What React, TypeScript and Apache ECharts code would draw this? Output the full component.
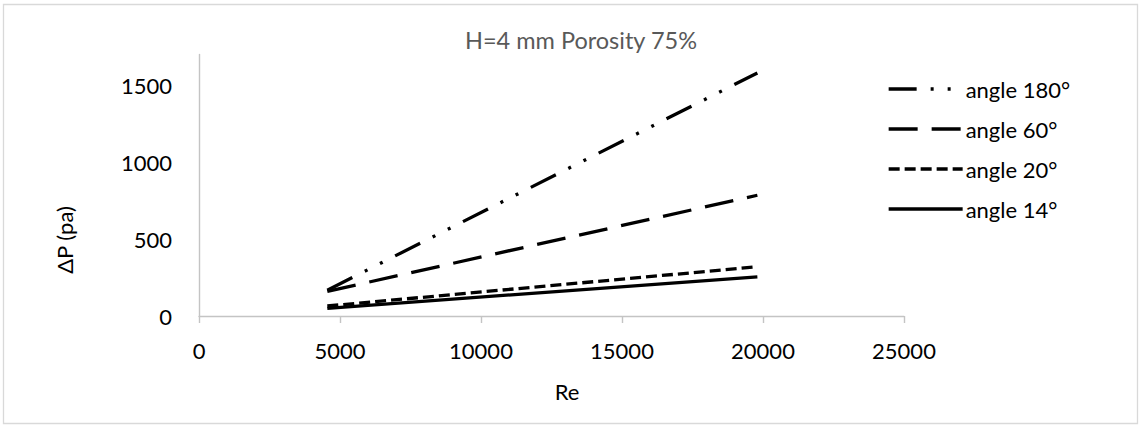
import React, { useEffect, useRef } from "react";
import * as echarts from "echarts";

const reValues = [4550, 19800];
const angle180 = [168, 1580];
const angle60 = [160, 785];
const angle20 = [65, 320];
const angle14 = [50, 255];
const seriesNames = ["angle 180°", "angle 60°", "angle 20°", "angle 14°"];
const titleText = "H=4 mm Porosity 75%";
const xName = "Re";
const yName = "ΔP (pa)";

const FONT = "Lato";

export default function App() {
  const ref = useRef<HTMLDivElement>(null);
  useEffect(() => {
    if (!ref.current) return;
    const chart = echarts.init(ref.current, null, { renderer: "svg" });
    const mk = (name: string, ys: number[], type: any) => ({
      name,
      type: "line",
      symbol: "none",
      data: reValues.map((x, i) => [x, ys[i]]),
      lineStyle: { color: "#000", width: 3.3, type, cap: "butt" },
      itemStyle: { color: "#000" },
    });
    chart.setOption({
      animation: false,
      backgroundColor: "#fff",
      textStyle: { fontFamily: FONT },
      title: {
        text: titleText,
        left: 576,
        top: 23,
        textAlign: "center",
        textStyle: { color: "#595959", fontSize: 23.5, fontWeight: "normal", fontFamily: FONT },
      },
      grid: { left: 199, right: 239, top: 54.5, bottom: 110, containLabel: false },
      xAxis: {
        type: "value",
        min: 0,
        max: 25000,
        interval: 5000,
        axisLine: { show: true, lineStyle: { color: "#c4c4c4", width: 1.4 } },
        axisTick: { show: true, length: 7, lineStyle: { color: "#c4c4c4", width: 1.4 } },
        splitLine: { show: false },
        axisLabel: {
          color: "#000",
          fontSize: 22,
          margin: 23,
          fontFamily: FONT,
          formatter: (v: number) => String(v),
        },
      },
      yAxis: {
        type: "value",
        min: 0,
        max: 1700,
        interval: 500,
        axisLine: { show: true, lineStyle: { color: "#c4c4c4", width: 1.4 } },
        axisTick: { show: false },
        splitLine: { show: false },
        axisLabel: {
          color: "#000",
          fontSize: 22,
          margin: 27,
          fontFamily: FONT,
          showMaxLabel: false,
          formatter: (v: number) => String(v),
        },
      },
      legend: {
        orient: "vertical",
        left: 887,
        top: 78,
        padding: 0,
        itemWidth: 74,
        itemHeight: 20,
        itemGap: 18,
        data: seriesNames,
        itemStyle: { color: "rgba(0,0,0,0)", borderWidth: 0, opacity: 0 },
        lineStyle: { width: 3.3 },
        textStyle: { color: "#000", fontSize: 22, fontFamily: FONT, padding: [0, 0, 0, -2] },
      },
      graphic: [
        {
          type: "rect",
          shape: { x: 3.5, y: 4.5, width: 1134, height: 419 },
          style: { fill: "none", stroke: "#d9d9d9", lineWidth: 1.3 },
          silent: true,
        },
        {
          type: "text",
          x: 64,
          y: 240,
          rotation: Math.PI / 2,
          style: {
            text: yName,
            fill: "#000",
            fontSize: 22,
            fontFamily: FONT,
            align: "center",
            verticalAlign: "middle",
          },
        },
        {
          type: "text",
          x: 567,
          y: 391,
          style: {
            text: xName,
            fill: "#000",
            fontSize: 22,
            fontFamily: FONT,
            align: "center",
            verticalAlign: "middle",
          },
        },
      ],
      series: [
        mk(seriesNames[0], angle180, [28, 14, 3, 14, 3, 14]),
        mk(seriesNames[1], angle60, [29, 14]),
        mk(seriesNames[2], angle20, [11, 5]),
        mk(seriesNames[3], angle14, "solid"),
      ],
    });
    return () => chart.dispose();
  }, []);
  return (
    <div
      ref={ref}
      style={{ position: "absolute", left: 0, top: 0, width: 1143, height: 426 }}
    />
  );
}
